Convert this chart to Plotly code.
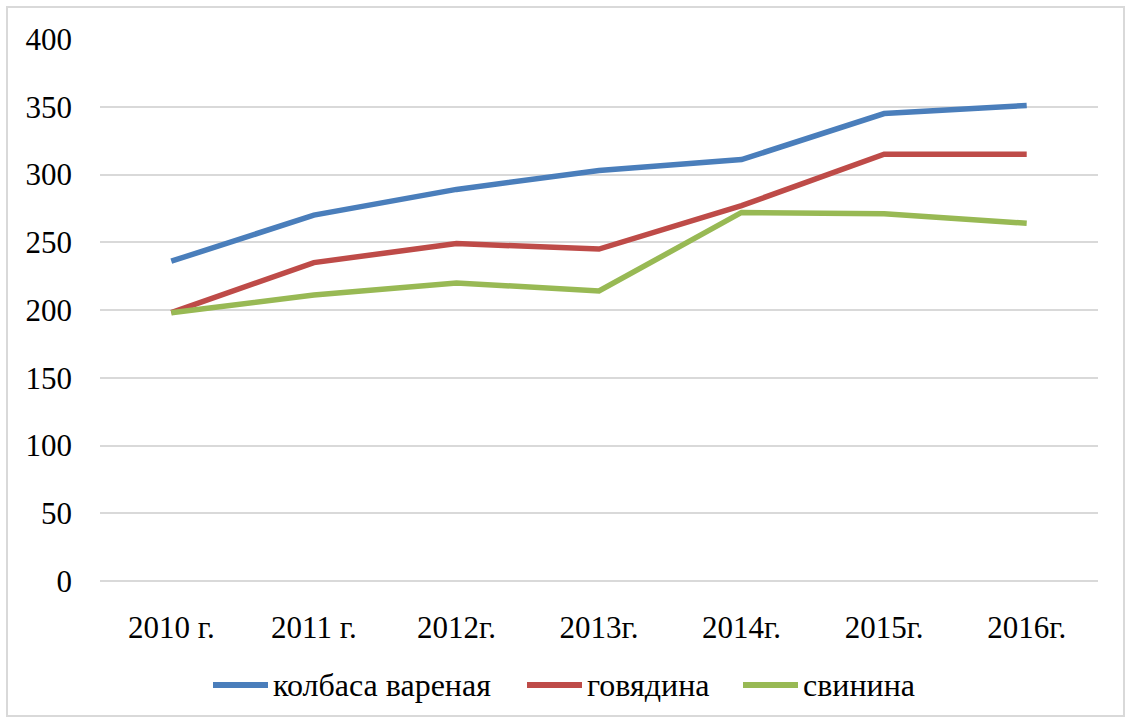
import plotly.graph_objects as go

years = ["2010 г.", "2011 г.", "2012г.", "2013г.", "2014г.", "2015г.", "2016г."]
kolbasa = [236, 270, 289, 303, 311, 345, 351]
govyadina = [198, 235, 249, 245, 277, 315, 315]
svinina = [198, 211, 220, 214, 272, 271, 264]

names = ["колбаса вареная", "говядина", "свинина"]
colors = ["#4A7EBB", "#BE4B48", "#98B954"]
values = [kolbasa, govyadina, svinina]

font = "Liberation Serif, DejaVu Serif, serif"
W, H = 1126, 718
L, R, T, B = 100, 28, 39, 137
pw, ph = W - L - R, H - T - B

def px(x):
    return (x - L) / pw

def py(y):
    return (H - B - y) / ph

fig = go.Figure()
for name, vals, col in zip(names, values, colors):
    fig.add_trace(go.Scatter(x=years, y=vals, name=name, mode="lines",
                             line=dict(color=col, width=5.5), showlegend=False))

shapes = [dict(type="rect", xref="paper", yref="paper",
               x0=px(7), x1=px(1124), y0=py(716), y1=py(7),
               line=dict(color="#D9D9D9", width=2), fillcolor="rgba(0,0,0,0)",
               layer="below")]
annotations = []
legend_x = [213, 527, 743]
ly = 685
for name, col, lx in zip(names, colors, legend_x):
    shapes.append(dict(type="line", xref="paper", yref="paper",
                       x0=px(lx), x1=px(lx + 55), y0=py(ly), y1=py(ly),
                       line=dict(color=col, width=6)))
    annotations.append(dict(xref="paper", yref="paper", x=px(lx + 58), y=py(ly),
                            xanchor="left", yanchor="middle", showarrow=False,
                            text=name, font=dict(family=font, size=32, color="black")))

fig.update_layout(
    width=W, height=H,
    margin=dict(l=L, r=R, t=T, b=B),
    paper_bgcolor="white", plot_bgcolor="white",
    font=dict(family=font, size=31, color="black"),
    showlegend=False,
    xaxis=dict(showgrid=False, showline=False, zeroline=False, ticks="",
               range=[-0.5, 6.5],
               ticklabelstandoff=25, tickfont=dict(family=font, size=31)),
    yaxis=dict(range=[0, 400], dtick=50, showgrid=True, gridcolor="#D9D9D9", gridwidth=2,
               zeroline=True, zerolinecolor="#D9D9D9", zerolinewidth=2,
               showline=False, ticks="", ticklabelstandoff=27,
               tickfont=dict(family=font, size=31)),
    shapes=shapes,
    annotations=annotations,
)
fig.write_html("out.html", config={"displayModeBar": False},
               post_script="document.body.style.margin='0';")
